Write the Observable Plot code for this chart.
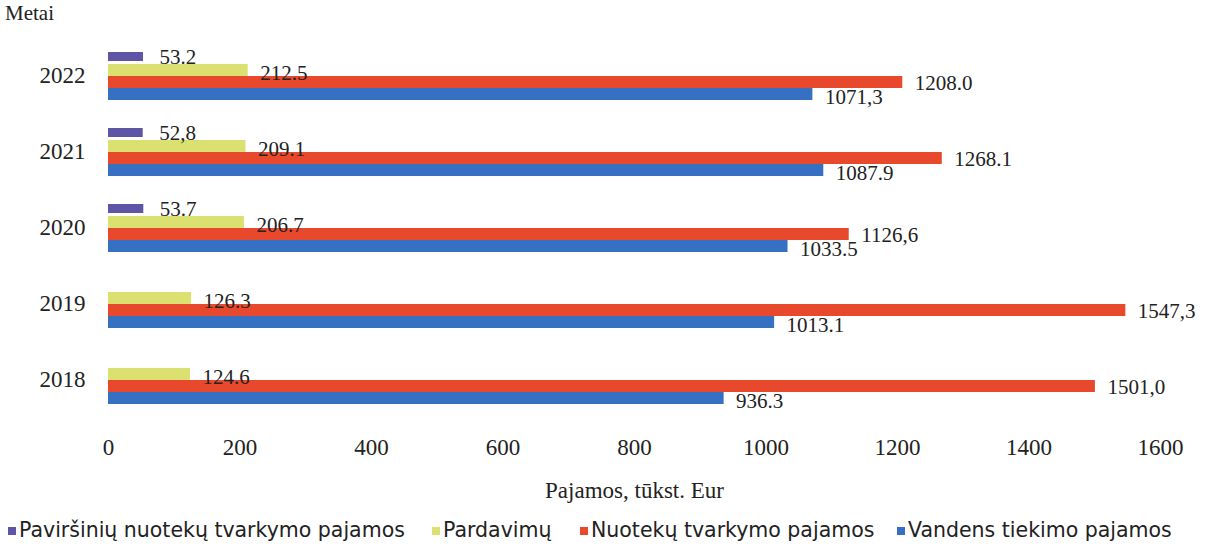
<!DOCTYPE html>
<html>
<head>
<meta charset="utf-8">
<script src="https://cdn.jsdelivr.net/npm/d3@7"></script>
<script src="https://cdn.jsdelivr.net/npm/@observablehq/plot@0.6"></script>
<style>
  html, body { margin: 0; padding: 0; background: #fff; }
  #wrap { position: relative; width: 1218px; height: 548px; overflow: hidden; }
  #metai { position: absolute; left: 5px; top: 1px; font-family: "Liberation Serif", serif; font-size: 21px; color: #222; }
  #chart { position: absolute; left: 0; top: 0; }
  #legend { position: absolute; left: 0; top: 516px; width: 1218px; height: 32px; font-family: "DejaVu Sans", sans-serif; font-size: 20.5px; color: #222; }
  .item { position: absolute; top: 2px; white-space: nowrap; }
  .sw { display: inline-block; width: 8px; height: 8px; margin-right: 3px; vertical-align: 2px; }
</style>
</head>
<body>
<div id="wrap">
  <div id="chart"></div>
  <div id="metai">Metai</div>
  <div id="legend"></div>
</div>
<script>
const years = ["2022", "2021", "2020", "2019", "2018"];
const seriesNames = [
  "Paviršinių nuotekų tvarkymo pajamos",
  "Pardavimų",
  "Nuotekų tvarkymo pajamos",
  "Vandens tiekimo pajamos"
];
const seriesColors = ["#5f55a6", "#dbe171", "#e8492c", "#3570c2"];

const surfaceValues = [53.2, 52.8, 53.7, null, null];
const salesValues = [212.5, 209.1, 206.7, 126.3, 124.6];
const wastewaterValues = [1208.0, 1268.1, 1126.6, 1547.3, 1501.0];
const waterValues = [1071.3, 1087.9, 1033.5, 1013.1, 936.3];

const surfaceLabels = ["53.2", "52,8", "53.7", "", ""];
const salesLabels = ["212.5", "209.1", "206.7", "126.3", "124.6"];
const wastewaterLabels = ["1208.0", "1268.1", "1126,6", "1547,3", "1501,0"];
const waterLabels = ["1071,3", "1087.9", "1033.5", "1013.1", "936.3"];

const xTicks = [0, 200, 400, 600, 800, 1000, 1200, 1400, 1600];

const valueSets = [surfaceValues, salesValues, wastewaterValues, waterValues];
const labelSets = [surfaceLabels, salesLabels, wastewaterLabels, waterLabels];

const rows = [];
seriesNames.forEach((s, si) => {
  years.forEach((y, yi) => {
    const v = valueSets[si][yi];
    if (v != null) rows.push({year: y, series: s, value: v, label: labelSets[si][yi]});
  });
});
const bySeries = s => rows.filter(d => d.series === s);

const serif = "Liberation Serif, serif";

const textOpts = [
  {dx: 16, dy: -1},
  {dx: 12, dy: 3},
  {dx: 12, dy: 1},
  {dx: 12, dy: 3}
];

const chart = Plot.plot({
  width: 1218,
  height: 510,
  marginLeft: 108,
  marginRight: 58,
  marginTop: 48,
  marginBottom: 104,
  style: {fontFamily: serif, fontSize: "21px", color: "#222", background: "transparent"},
  x: {domain: [0, 1600]},
  y: {domain: seriesNames, padding: 0, axis: null},
  fy: {domain: years, paddingInner: 0.335, paddingOuter: 0, label: null},
  color: {domain: seriesNames, range: seriesColors},
  marks: [
    Plot.axisFy({anchor: "left", tickSize: 0, tickPadding: 23, fontSize: 23, label: null}),
    Plot.axisX({ticks: xTicks, tickSize: 0, tickPadding: 33, fontSize: 23, tickFormat: d => String(d),
      label: "Pajamos, tūkst. Eur", labelAnchor: "center", labelArrow: "none", labelOffset: 92}),
    Plot.barX(bySeries(seriesNames[0]), {x: "value", y: "series", fy: "year", fill: "series", insetBottom: 3, insetTop: 0}),
    ...seriesNames.slice(1).map(s => Plot.barX(bySeries(s), {x: "value", y: "series", fy: "year", fill: "series"})),
    ...seriesNames.map((s, i) => Plot.text(bySeries(s), {
      x: "value", y: "series", fy: "year", text: "label", textAnchor: "start",
      dx: textOpts[i].dx, dy: textOpts[i].dy, fill: "#222", fontSize: 21, fontFamily: serif
    }))
  ]
});
document.getElementById("chart").appendChild(chart);

const legendX = [8, 432, 580, 897];
const legend = document.getElementById("legend");
seriesNames.forEach((s, i) => {
  const item = document.createElement("div");
  item.className = "item";
  item.style.left = legendX[i] + "px";
  const sw = document.createElement("span");
  sw.className = "sw";
  sw.style.background = seriesColors[i];
  item.appendChild(sw);
  item.appendChild(document.createTextNode(s));
  legend.appendChild(item);
});
</script>
</body>
</html>
